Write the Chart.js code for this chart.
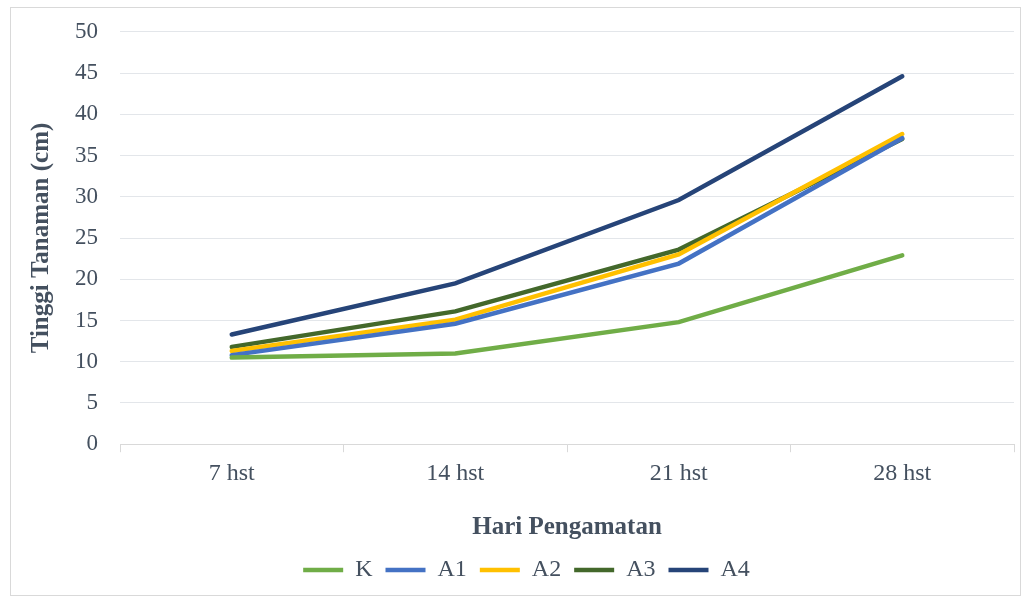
<!DOCTYPE html>
<html>
<head>
<meta charset="utf-8">
<script src="https://cdn.jsdelivr.net/npm/chart.js@4"></script>
<style>
  body { margin: 0; background: #fff; }
  #wrap { position: absolute; left: 10px; top: 7px; width: 1009px; height: 587px; border: 1px solid #d9d9d9; }
  #inner { position: absolute; left: 0; top: -12px; width: 1009px; height: 599px; }
</style>
</head>
<body>
<div id="wrap"><div id="inner"><canvas id="growthChart"></canvas></div></div>
<script>
  const categories = ['7 hst', '14 hst', '21 hst', '28 hst'];
  const seriesK  = [10.5, 11.0, 14.8, 22.9];
  const seriesA1 = [10.8, 14.6, 21.9, 37.1];
  const seriesA2 = [11.3, 15.1, 23.0, 37.6];
  const seriesA3 = [11.8, 16.1, 23.6, 37.0];
  const seriesA4 = [13.3, 19.5, 29.6, 44.6];
  const yTicks = [0, 5, 10, 15, 20, 25, 30, 35, 40, 45, 50];

  const textColor = '#44505f';
  const serif = '"Liberation Serif", "Times New Roman", serif';

  function line(label, data, color) {
    return {
      label: label,
      data: data,
      borderColor: color,
      backgroundColor: color,
      borderWidth: 4.5,
      borderCapStyle: 'round',
      pointRadius: 0,
      tension: 0
    };
  }

  const ctx = document.getElementById('growthChart').getContext('2d');
  const chart = new Chart(ctx, {
    type: 'line',
    data: {
      labels: categories,
      datasets: [
        line('K', seriesK, '#70ad47'),
        line('A1', seriesA1, '#4472c4'),
        line('A2', seriesA2, '#ffc000'),
        line('A3', seriesA3, '#43682b'),
        line('A4', seriesA4, '#264478')
      ]
    },
    options: {
      responsive: true,
      maintainAspectRatio: false,
      animation: false,
      layout: { padding: { top: 0, right: 6, left: 28, bottom: 3 } },
      plugins: {
        legend: {
          position: 'bottom',
          labels: {
            usePointStyle: true,
            pointStyle: 'line',
            pointStyleWidth: 40,
            padding: 13,
            color: textColor,
            font: { family: serif, size: 24 }
          }
        },
        tooltip: { enabled: false }
      },
      scales: {
        x: {
          offset: true,
          grid: { offset: true, drawOnChartArea: false, color: '#d9d9d9', tickLength: 8 },
          border: { color: '#d9d9d9' },
          ticks: { color: textColor, font: { family: serif, size: 24 }, padding: 7 },
          title: {
            display: true,
            text: 'Hari Pengamatan',
            color: textColor,
            font: { family: serif, size: 25, weight: 'bold' },
            padding: { top: 18, bottom: 2 }
          }
        },
        y: {
          min: 0,
          max: 50,
          afterBuildTicks: function (axis) {
            axis.ticks = yTicks.map(v => ({ value: v }));
          },
          grid: { color: '#e3e6ea', drawTicks: false },
          border: { display: false },
          ticks: { color: textColor, font: { family: serif, size: 23 }, padding: 22 },
          title: {
            display: true,
            text: 'Tinggi Tanaman (cm)',
            color: textColor,
            font: { family: serif, size: 25, weight: 'bold' },
            padding: { top: -12, bottom: -4 }
          }
        }
      }
    }
  });
</script>
</body>
</html>
